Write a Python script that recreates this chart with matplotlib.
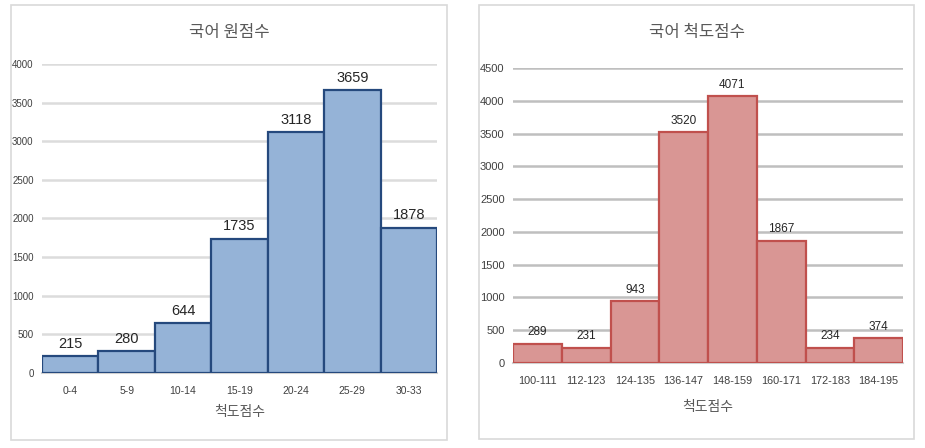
import matplotlib.pyplot as plt
from matplotlib.patches import Rectangle

# ── Data ────────────────────────────────────────────
raw_bins   = ['0-4', '5-9', '10-14', '15-19', '20-24', '25-29', '30-33']
raw_counts = [215, 280, 644, 1735, 3118, 3659, 1878]

std_bins   = ['100-111', '112-123', '124-135', '136-147', '148-159',
              '160-171', '172-183', '184-195']
std_counts = [289, 231, 943, 3520, 4071, 1867, 234, 374]

KR  = ['Noto Sans CJK KR', 'DejaVu Sans']
NUM = ['Liberation Sans Narrow', 'Liberation Sans', 'DejaVu Sans']

W, H = 925, 448
fig = plt.figure(figsize=(W / 100, H / 100), dpi=100)


def px(x0, y0, x1, y1):
    """pixel box (top-left origin) -> figure fraction rect"""
    return [x0 / W, 1 - y1 / H, (x1 - x0) / W, (y1 - y0) / H]


def panel(box, ax_box, cats, vals, ymax, fill, edge, grid_c, title, title_xy,
          xlabel_y, tick_fs, ytick_fs, lab_fs):
    # light frame around each chart
    x0, y0, x1, y1 = box
    fig.patches.append(Rectangle((x0 / W, 1 - y1 / H), (x1 - x0) / W, (y1 - y0) / H,
                                 transform=fig.transFigure, fill=False,
                                 edgecolor='#d9d9d9', linewidth=1.2))

    ax = fig.add_axes(px(*ax_box))
    pos = range(len(cats))
    ax.bar(pos, vals, width=1.0, color=fill, edgecolor=edge, linewidth=1.6, zorder=3)
    for p, v in zip(pos, vals):
        ax.annotate(str(v), (p, v), xytext=(0, 4), textcoords='offset points',
                    ha='center', va='bottom', fontsize=lab_fs, family=NUM,
                    color='#262626')

    ax.set_xlim(-0.5, len(cats) - 0.5)
    ax.set_ylim(0, ymax)
    ax.set_yticks(range(0, ymax + 1, 500))
    ax.yaxis.grid(True, color=grid_c, linewidth=1.8, zorder=0)
    ax.set_axisbelow(True)
    for s in ['top', 'right', 'left']:
        ax.spines[s].set_visible(False)
    ax.spines['bottom'].set_color('#d0d0d0')
    ax.spines['bottom'].set_linewidth(1.5)
    ax.tick_params(length=0)
    ax.set_xticks(list(pos))
    ax.set_xticklabels(cats, fontsize=tick_fs, family=NUM, color='#404040')
    for t in ax.get_yticklabels():
        t.set_fontsize(ytick_fs)
        t.set_family(NUM)
        t.set_color('#404040')
    ax.tick_params(axis='x', pad=9)
    ax.tick_params(axis='y', pad=6)

    fig.text(title_xy[0] / W, 1 - title_xy[1] / H, title, ha='center', va='center',
             fontsize=12, family=KR, color='#595959')
    cx = (ax_box[0] + ax_box[2]) / 2
    fig.text(cx / W, 1 - xlabel_y / H, '척도점수', ha='center', va='center',
             fontsize=10, family=KR, color='#595959')
    return ax


panel((11, 5, 447, 440), (42, 64, 437, 373), raw_bins, raw_counts, 4000,
      '#95b3d7', '#25497d', '#dcdcdc', '국어 원점수', (229, 32), 412,
      tick_fs=7.5, ytick_fs=7, lab_fs=10.5)

panel((479, 5, 914, 439), (513, 68, 903, 363), std_bins, std_counts, 4500,
      '#d99694', '#c0504d', '#bfbfbf', '국어 척도점수', (697, 33), 407,
      tick_fs=7.8, ytick_fs=8, lab_fs=8.5)

plt.savefig('out.png', dpi=100)
